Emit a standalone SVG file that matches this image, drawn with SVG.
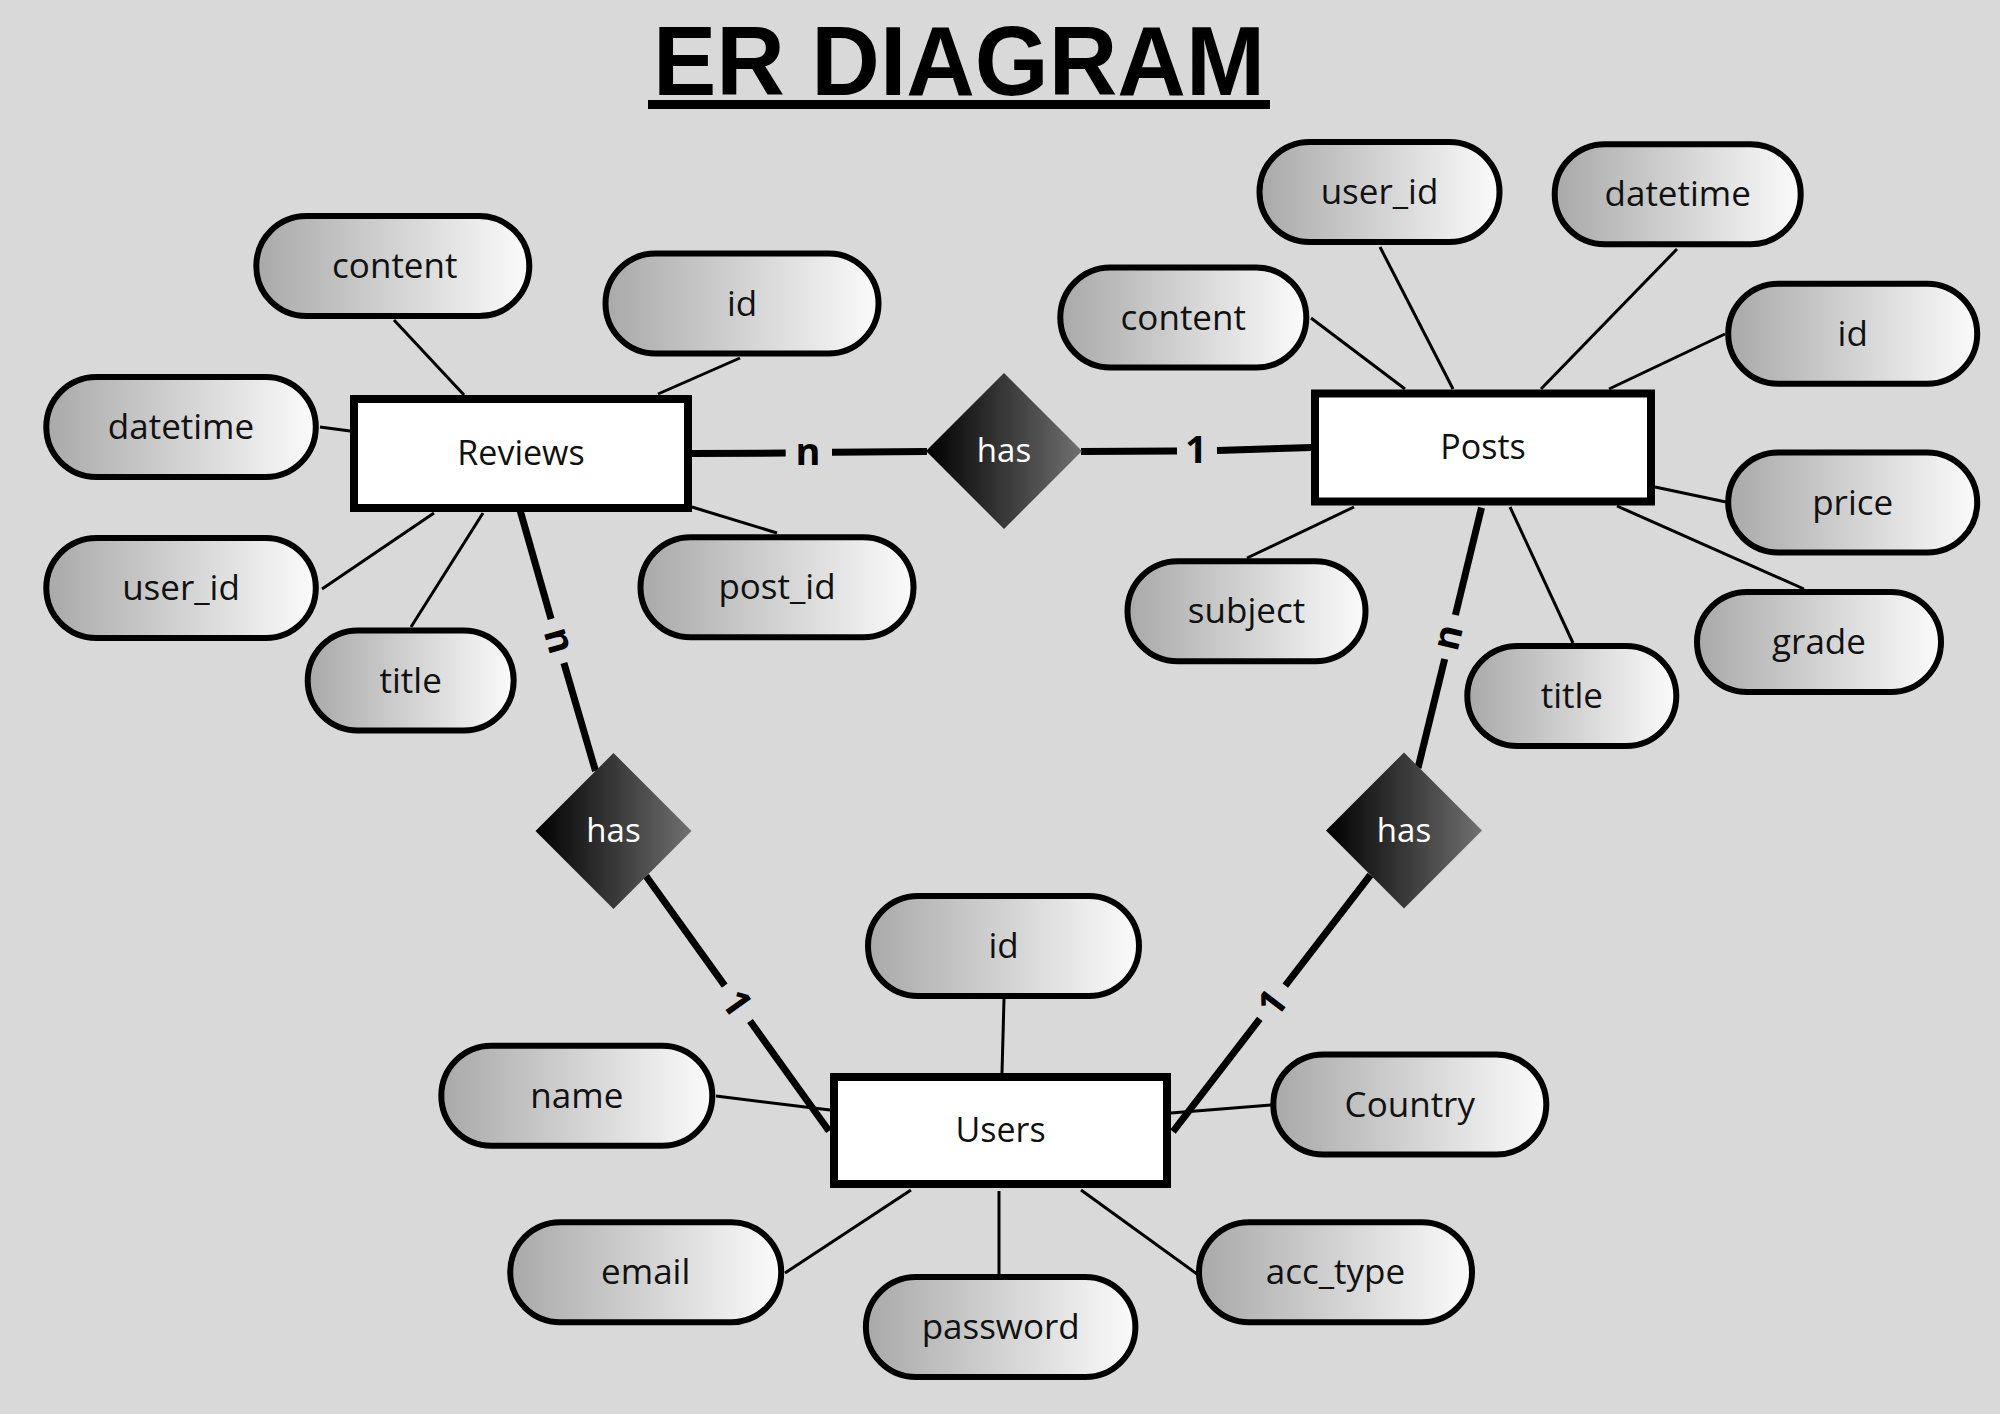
<svg xmlns="http://www.w3.org/2000/svg" width="2000" height="1414" viewBox="0 0 2000 1414">
<defs>
<linearGradient id="pillGrad" x1="0" y1="0" x2="1" y2="0">
<stop offset="0" stop-color="#a9a9a9"/>
<stop offset="1" stop-color="#fbfbfb"/>
</linearGradient>
<linearGradient id="relGrad" x1="0" y1="0" x2="1" y2="0">
<stop offset="0" stop-color="#000000"/>
<stop offset="1" stop-color="#707070"/>
</linearGradient>
<style>
.pill{fill:url(#pillGrad);stroke:#000;stroke-width:6}
.ent{fill:#fff;stroke:#000;stroke-width:8}
.rel{fill:url(#relGrad)}
.t{font-family:"Open Sans","Noto Sans",sans-serif;font-size:35px;fill:#111;text-anchor:middle}
.et{font-family:"Open Sans","Noto Sans",sans-serif;font-size:34px;fill:#111;text-anchor:middle}
.rt{font-family:"Open Sans","Noto Sans",sans-serif;font-size:33px;fill:#fff;text-anchor:middle}
.card{font-family:"Open Sans","Noto Sans",sans-serif;font-size:38px;font-weight:700;fill:#000;text-anchor:middle}
.thin{stroke:#000;stroke-width:3;fill:none}
.thick{stroke:#000;stroke-width:7;fill:none}
</style>
</defs>
<rect x="0" y="0" width="2000" height="1414" fill="#d9d9d9"/>
<g id="title">
<text x="959" y="95" font-family="'Liberation Sans',Arial,sans-serif" font-size="99" font-weight="700" text-anchor="middle" textLength="612" lengthAdjust="spacingAndGlyphs" fill="#000">ER DIAGRAM</text>
<rect x="648" y="100" width="622" height="9" fill="#000"/>
</g>
<g id="connectors">
<line class="thin" x1="394" y1="320" x2="464" y2="395"/>
<line class="thin" x1="740" y1="358" x2="658" y2="394"/>
<line class="thin" x1="320" y1="427" x2="350" y2="431"/>
<line class="thin" x1="322" y1="589" x2="434" y2="513"/>
<line class="thin" x1="411" y1="627" x2="483" y2="513"/>
<line class="thin" x1="692" y1="507" x2="777" y2="533"/>
<line class="thin" x1="1311" y1="318" x2="1405" y2="389"/>
<line class="thin" x1="1380" y1="247" x2="1453" y2="389"/>
<line class="thin" x1="1677" y1="249" x2="1541" y2="389"/>
<line class="thin" x1="1725" y1="334" x2="1609" y2="389"/>
<line class="thin" x1="1655" y1="487" x2="1726" y2="502"/>
<line class="thin" x1="1617" y1="506" x2="1804" y2="589"/>
<line class="thin" x1="1510" y1="507" x2="1573" y2="643"/>
<line class="thin" x1="1354" y1="507" x2="1247" y2="558"/>
<line class="thin" x1="1004" y1="999" x2="1002" y2="1073"/>
<line class="thin" x1="716" y1="1096" x2="830" y2="1110"/>
<line class="thin" x1="1271" y1="1105" x2="1171" y2="1113"/>
<line class="thin" x1="785" y1="1273" x2="911" y2="1190"/>
<line class="thin" x1="999" y1="1191" x2="999" y2="1275"/>
<line class="thin" x1="1197" y1="1274" x2="1081" y2="1190"/>
<line class="thick" x1="692" y1="453.6" x2="785.7" y2="453"/>
<line class="thick" x1="832" y1="452.2" x2="927" y2="451.5"/>
<line class="thick" x1="1081" y1="451.5" x2="1177" y2="451"/>
<line class="thick" x1="1217" y1="450.4" x2="1312" y2="447.5"/>
<line class="thick" x1="520" y1="510" x2="551.1" y2="619"/>
<line class="thick" x1="563.9" y1="663" x2="595.5" y2="771"/>
<line class="thick" x1="646" y1="876" x2="724.7" y2="985.6"/>
<line class="thick" x1="750" y1="1021" x2="829" y2="1131"/>
<line class="thick" x1="1370.4" y1="875" x2="1285.3" y2="985.6"/>
<line class="thick" x1="1259.8" y1="1018.8" x2="1173" y2="1131.7"/>
<line class="thick" x1="1481.5" y1="507.6" x2="1455.4" y2="615"/>
<line class="thick" x1="1444.7" y1="659" x2="1418" y2="768"/>
<text class="card" x="808" y="465">n</text>
<text class="card" x="1196" y="463">1</text>
<text class="card" transform="translate(557,641) rotate(73.8)" x="0" y="10.5">n</text>
<text class="card" transform="translate(1450,638) rotate(-76.3)" x="0" y="10.5">n</text>
<text class="card" transform="translate(737,1003) rotate(54.3)" x="0" y="13.5">1</text>
<text class="card" transform="translate(1272,1003) rotate(-52.5)" x="0" y="13.5">1</text>
</g>
<g id="reviews">
<rect class="ent" x="354" y="399" width="334" height="109"/>
<text class="et" x="521" y="465">Reviews</text>
</g>
<g id="posts">
<rect class="ent" x="1315" y="393.5" width="336" height="108"/>
<text class="et" x="1483" y="459">Posts</text>
</g>
<g id="users">
<rect class="ent" x="834" y="1077" width="333" height="107"/>
<text class="et" x="1000.5" y="1142">Users</text>
</g>
<g id="has-reviews-posts">
<polygon class="rel" points="926,451 1004,373 1082,451 1004,529"/>
<text class="rt" x="1004" y="462">has</text>
</g>
<g id="has-reviews-users">
<polygon class="rel" points="535.5,831 613.5,753 691.5,831 613.5,909"/>
<text class="rt" x="613.5" y="842">has</text>
</g>
<g id="has-posts-users">
<polygon class="rel" points="1326,830.5 1404,752.5 1482,830.5 1404,908.5"/>
<text class="rt" x="1404" y="841.5">has</text>
</g>
<g id="reviews-content"><rect class="pill" x="256.3" y="216.1" width="273" height="100" rx="50"/><text class="t" x="394.8" y="278.1">content</text></g>
<g id="reviews-id"><rect class="pill" x="605.5" y="253.6" width="273" height="100" rx="50"/><text class="t" x="742" y="315.6">id</text></g>
<g id="reviews-datetime"><rect class="pill" x="46.3" y="376.9" width="269.5" height="100" rx="50"/><text class="t" x="181" y="438.9">datetime</text></g>
<g id="reviews-user_id"><rect class="pill" x="46.3" y="538" width="269.5" height="100" rx="50"/><text class="t" x="181" y="600">user_id</text></g>
<g id="reviews-title"><rect class="pill" x="307.7" y="630.6" width="206" height="100" rx="50"/><text class="t" x="410.7" y="692.6">title</text></g>
<g id="reviews-post_id"><rect class="pill" x="640.5" y="537.3" width="273" height="100" rx="50"/><text class="t" x="777" y="599.3">post_id</text></g>
<g id="posts-user_id"><rect class="pill" x="1259.5" y="142" width="240" height="100" rx="50"/><text class="t" x="1379.5" y="204">user_id</text></g>
<g id="posts-datetime"><rect class="pill" x="1554.7" y="144.2" width="246" height="100" rx="50"/><text class="t" x="1677.7" y="206.2">datetime</text></g>
<g id="posts-content"><rect class="pill" x="1060.3" y="267.5" width="246" height="100" rx="50"/><text class="t" x="1183.3" y="329.5">content</text></g>
<g id="posts-id"><rect class="pill" x="1728.2" y="283.7" width="249" height="100" rx="50"/><text class="t" x="1852.7" y="345.7">id</text></g>
<g id="posts-price"><rect class="pill" x="1728.2" y="452.5" width="249" height="100" rx="50"/><text class="t" x="1852.7" y="514.5">price</text></g>
<g id="posts-grade"><rect class="pill" x="1697" y="592" width="244" height="100" rx="50"/><text class="t" x="1819" y="654">grade</text></g>
<g id="posts-subject"><rect class="pill" x="1127.5" y="561.3" width="238" height="100" rx="50"/><text class="t" x="1246.5" y="623.3">subject</text></g>
<g id="posts-title"><rect class="pill" x="1467.3" y="645.9" width="209" height="100" rx="50"/><text class="t" x="1571.8" y="707.9">title</text></g>
<g id="users-id"><rect class="pill" x="868" y="896" width="271" height="100" rx="50"/><text class="t" x="1003.5" y="958">id</text></g>
<g id="users-name"><rect class="pill" x="441.3" y="1045.8" width="271" height="100" rx="50"/><text class="t" x="576.8" y="1107.8">name</text></g>
<g id="users-country"><rect class="pill" x="1273.3" y="1054.6" width="273" height="100" rx="50"/><text class="t" x="1409.8" y="1116.6">Country</text></g>
<g id="users-email"><rect class="pill" x="510.2" y="1222.2" width="271" height="100" rx="50"/><text class="t" x="645.7" y="1284.2">email</text></g>
<g id="users-password"><rect class="pill" x="865.9" y="1277" width="269.5" height="100" rx="50"/><text class="t" x="1000.7" y="1339">password</text></g>
<g id="users-acc_type"><rect class="pill" x="1199" y="1222.3" width="273" height="100" rx="50"/><text class="t" x="1335.5" y="1284.3">acc_type</text></g>
</svg>
